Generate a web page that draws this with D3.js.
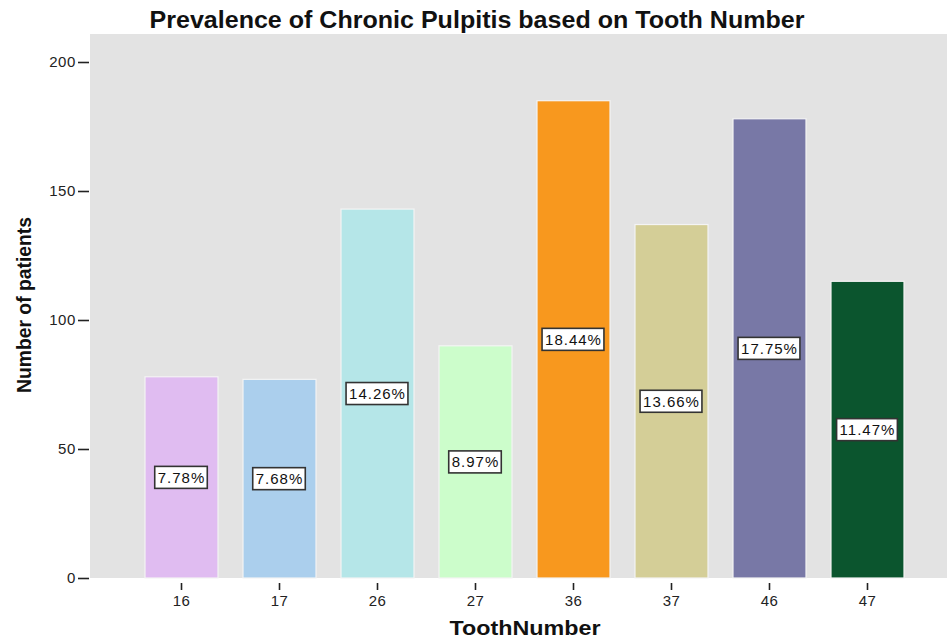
<!DOCTYPE html>
<html>
<head>
<meta charset="utf-8">
<script src="https://cdn.jsdelivr.net/npm/d3@7"></script>
<style>
  html, body { margin: 0; padding: 0; background: #fff; }
  svg { display: block; }
  text { font-family: "Liberation Sans", Arial, sans-serif; }
</style>
</head>
<body>
<svg id="chart" width="947" height="639"></svg>
<script>
// Patients per tooth number
const teeth = ["16", "17", "26", "27", "36", "37", "46", "47"];
const patients = [78, 77, 143, 90, 185, 137, 178, 115];
const barColors = ["#e0bcf1", "#abcfed", "#b5e6e8", "#ccfdcb", "#f8981e", "#d4ce97", "#7878a6", "#0b552e"];
const yTicks = [0, 50, 100, 150, 200];

const total = d3.sum(patients);
const data = teeth.map((t, i) => ({ tooth: t, n: patients[i], color: barColors[i] }));

const svg = d3.select("#chart");
const plot = { left: 90, right: 947, top: 34, bottom: 578 };
const fontFamily = "\"Liberation Sans\", Arial, sans-serif";

const x = d3.scaleBand()
  .domain(teeth)
  .range([145, 904])
  .paddingInner(0.255)
  .paddingOuter(0);

const y = d3.scaleLinear()
  .domain([0, 200])
  .range([578, 62]);

// Plot background
svg.append("rect")
  .attr("x", plot.left)
  .attr("y", plot.top)
  .attr("width", plot.right - plot.left)
  .attr("height", plot.bottom - plot.top)
  .attr("fill", "#e3e3e3");

// Bars
svg.append("g")
  .selectAll("rect")
  .data(data)
  .join("rect")
  .attr("x", d => x(d.tooth))
  .attr("y", d => y(d.n))
  .attr("width", x.bandwidth())
  .attr("height", d => y(0) - y(d.n))
  .attr("fill", d => d.color)
  .attr("stroke", "#f4f4f4")
  .attr("stroke-width", 1.2);

// Percentage labels in boxes, centred at half the bar height
const labels = svg.append("g")
  .selectAll("g")
  .data(data)
  .join("g")
  .attr("transform", d => `translate(${x(d.tooth) + x.bandwidth() / 2},${y(d.n / 2)})`);

labels.append("text")
  .attr("text-anchor", "middle")
  .attr("dy", "0.36em")
  .attr("font-size", 15)
  .attr("letter-spacing", 1)
  .attr("fill", "#111")
  .text(d => (d.n / total * 100).toFixed(2) + "%")
  .each(function () {
    const b = this.getBBox();
    d3.select(this.parentNode).insert("rect", "text")
      .attr("x", b.x - 3)
      .attr("y", -11)
      .attr("width", b.width + 5)
      .attr("height", 22)
      .attr("fill", "#fff")
      .attr("stroke", "#333")
      .attr("stroke-width", 1.6);
  });

// Y axis
const yAxis = svg.append("g")
  .attr("transform", `translate(${plot.left - 1},0)`)
  .call(d3.axisLeft(y).tickValues(yTicks).tickSize(11).tickPadding(2));
yAxis.select(".domain").remove();
yAxis.selectAll(".tick line").attr("stroke", "#222").attr("stroke-width", 1.6);
yAxis.selectAll(".tick text").attr("font-size", 15).attr("letter-spacing", 0.6)
  .attr("fill", "#222").attr("font-family", fontFamily);

// X axis
const xAxis = svg.append("g")
  .attr("transform", `translate(0,${plot.bottom + 5})`)
  .call(d3.axisBottom(x).tickSize(7).tickPadding(5));
xAxis.select(".domain").remove();
xAxis.selectAll(".tick line").attr("stroke", "#222").attr("stroke-width", 1.6);
xAxis.selectAll(".tick text").attr("font-size", 15).attr("letter-spacing", 0.4)
  .attr("fill", "#222").attr("font-family", fontFamily);

// Titles
svg.append("text")
  .attr("x", 477)
  .attr("y", 28)
  .attr("text-anchor", "middle")
  .attr("font-size", 23)
  .attr("font-weight", "bold")
  .attr("fill", "#111")
  .attr("textLength", 655)
  .attr("lengthAdjust", "spacingAndGlyphs")
  .text("Prevalence of Chronic Pulpitis based on Tooth Number");

svg.append("text")
  .attr("x", 525)
  .attr("y", 635)
  .attr("text-anchor", "middle")
  .attr("font-size", 20)
  .attr("font-weight", "bold")
  .attr("fill", "#111")
  .attr("textLength", 151)
  .attr("lengthAdjust", "spacingAndGlyphs")
  .text("ToothNumber");

svg.append("text")
  .attr("transform", "translate(31,305) rotate(-90)")
  .attr("text-anchor", "middle")
  .attr("font-size", 20)
  .attr("font-weight", "bold")
  .attr("fill", "#111")
  .attr("textLength", 176)
  .attr("lengthAdjust", "spacingAndGlyphs")
  .text("Number of patients");
</script>
</body>
</html>
